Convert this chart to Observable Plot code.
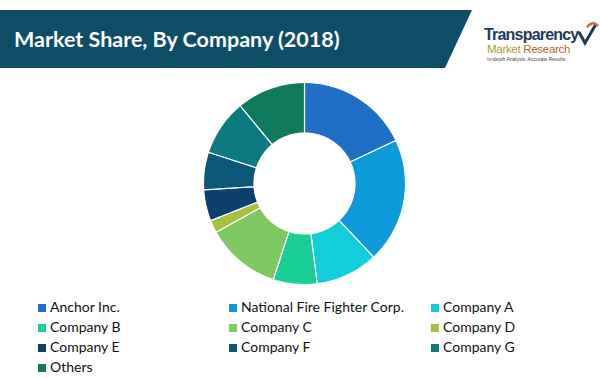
<!DOCTYPE html>
<html>
<head>
<meta charset="utf-8">
<script src="https://cdn.jsdelivr.net/npm/d3@7"></script>
<script src="https://cdn.jsdelivr.net/npm/@observablehq/plot@0.6"></script>
<style>
  html, body { margin: 0; padding: 0; background: #fff; }
  body { width: 600px; height: 378px; position: relative; overflow: hidden; font-family: Lato, "Open Sans", sans-serif; }
  #banner { position: absolute; left: 0; top: 10px; width: 472px; height: 58px; background: #0d4d66;
            clip-path: polygon(0 0, 472px 0, 445px 58px, 0 58px); }
  #title { position: absolute; left: 14px; top: 26px; color: #fff; font: bold 21.5px Lato, sans-serif; white-space: nowrap; line-height: 26px; }
  #logo { position: absolute; left: 484px; top: 0; width: 116px; height: 70px; }
  #logo div { position: absolute; white-space: nowrap; }
  #logo .t1 { left: 0; top: 27px; font: bold 16px "Liberation Sans Narrow", "Liberation Sans", Arial, sans-serif; color: #1b3a5c; letter-spacing: -0.8px; line-height: 16px; }
  #logo .t2 { left: 3px; top: 44px; font: 11.5px "Liberation Sans Narrow", "Liberation Sans", Arial, sans-serif; line-height: 11px; letter-spacing: -0.3px; }
  #logo .t3 { left: 3px; top: 57px; font: 5px "Liberation Sans", Arial, sans-serif; color: #444; line-height: 5px; }
  #chart { position: absolute; left: 0; top: 80px; }
  #legend { position: absolute; left: 0; top: 298px; width: 600px; }
  .item { position: absolute; font: 14px Lato, sans-serif; color: #111; white-space: nowrap; line-height: 18px; }
  .sw { display: inline-block; width: 8px; height: 8px; margin-right: 4px; vertical-align: 0px; }
</style>
</head>
<body>
<div id="banner"></div>
<div id="title"></div>
<div id="logo">
  <div class="t1">Transparency</div>
  <div class="t2"><span style="color:#a99a2c">Market </span><span style="color:#c0602a">Research</span></div>
  <div class="t3">In-depth Analysis. Accurate Results</div>
  <svg width="22" height="26" style="position:absolute;left:93px;top:20px" viewBox="0 0 22 26">
    <path d="M2 12 L8 23 L19 4" fill="none" stroke="#1b3a5c" stroke-width="3"/>
    <path d="M10 7 Q16 0 21 6" fill="none" stroke="#d4622a" stroke-width="2.5"/>
  </svg>
</div>
<div id="chart"></div>
<div id="legend"></div>
<script>
const titleText = "Market Share, By Company (2018)";
const companies = ["Anchor Inc.", "National Fire Fighter Corp.", "Company A", "Company B", "Company C",
                   "Company D", "Company E", "Company F", "Company G", "Others"];
const shares = [18, 20, 10, 7, 12, 2, 5, 6, 9, 11];
const colors = ["#1f6fc6", "#0a9bd8", "#14cddb", "#17cf97", "#7ec95f",
                "#a5c13f", "#0a3f6e", "#0b5778", "#0c7a7f", "#107a5c"];

document.getElementById("title").textContent = titleText;

// Build wedge outlines (unit circle coordinates) from the shares
const innerRatio = 0.5;
const total = d3.sum(shares);
const pts = [];
let acc = 0;
companies.forEach((name, i) => {
  const a0 = acc / total * 2 * Math.PI;
  acc += shares[i];
  const a1 = acc / total * 2 * Math.PI;
  const n = Math.max(2, Math.ceil((a1 - a0) / (Math.PI / 180)));
  for (let k = 0; k <= n; k++) {
    const a = a0 + (a1 - a0) * k / n;
    pts.push({name, x: Math.sin(a), y: Math.cos(a)});
  }
  for (let k = n; k >= 0; k--) {
    const a = a0 + (a1 - a0) * k / n;
    pts.push({name, x: innerRatio * Math.sin(a), y: innerRatio * Math.cos(a)});
  }
});

const cx = 304, cy = 103, R = 101;
const chart = Plot.plot({
  width: 600,
  height: 210,
  margin: 0,
  x: {domain: [-1, 1], range: [cx - R, cx + R], axis: null},
  y: {domain: [-1, 1], range: [cy + R, cy - R], axis: null},
  color: {domain: companies, range: colors},
  marks: [
    Plot.line(pts, {x: "x", y: "y", z: "name", fill: "name", stroke: "#fff", strokeWidth: 1.2,
                    curve: "linear-closed", strokeLinejoin: "miter"})
  ]
});
document.getElementById("chart").appendChild(chart);

// Legend
const colX = [38, 229, 431];
const rowY = [0, 20, 40, 60];
const legend = document.getElementById("legend");
companies.forEach((name, i) => {
  const div = document.createElement("div");
  div.className = "item";
  div.style.left = colX[i % 3] + "px";
  div.style.top = rowY[Math.floor(i / 3)] + "px";
  const sw = document.createElement("span");
  sw.className = "sw";
  sw.style.background = colors[i];
  div.appendChild(sw);
  div.appendChild(document.createTextNode(name));
  legend.appendChild(div);
});
</script>
</body>
</html>
